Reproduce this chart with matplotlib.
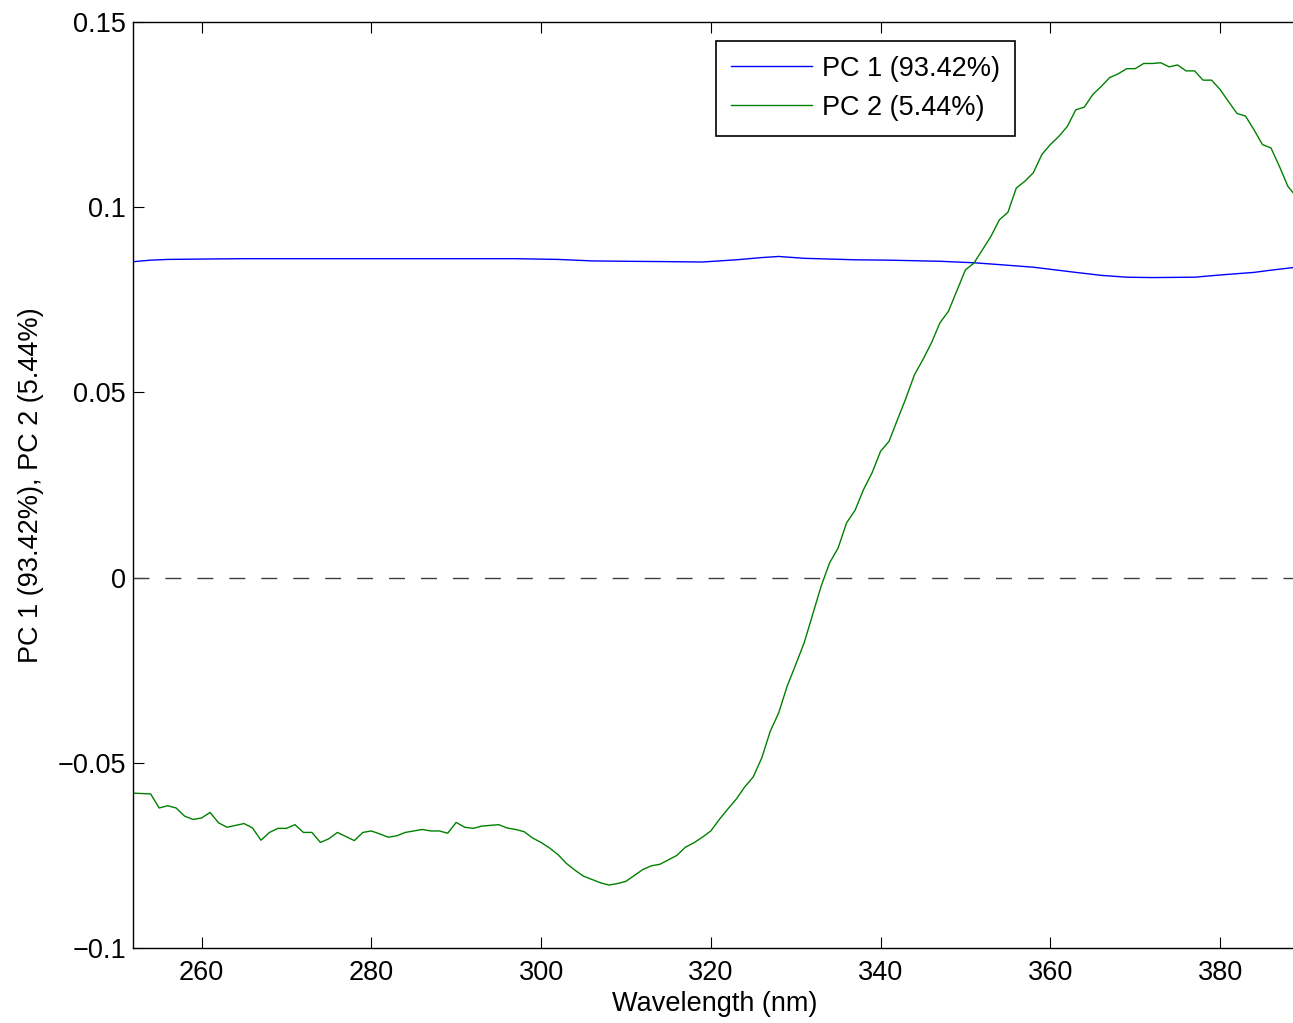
import numpy as np
import matplotlib.pyplot as plt

plt.rcParams['font.family'] = ['Liberation Sans', 'DejaVu Sans']

# PC 2 loadings, 1 nm steps
wl_pc2 = list(range(252, 390))
pc2 = [-0.0582, -0.0583, -0.0584, -0.0622, -0.0616, -0.0622, -0.0644, -0.0653, -0.0649, -0.0634,
       -0.0662, -0.0674, -0.0669, -0.0664, -0.0676, -0.0709, -0.0688, -0.0677, -0.0677, -0.0667,
       -0.0688, -0.0688, -0.0715, -0.0705, -0.0688, -0.0699, -0.0710, -0.0688, -0.0684, -0.0692,
       -0.0701, -0.0697, -0.0688, -0.0684, -0.0680, -0.0684, -0.0684, -0.0690, -0.0661, -0.0674,
       -0.0677, -0.0671, -0.0669, -0.0667, -0.0676, -0.0680, -0.0686, -0.0703, -0.0715, -0.0730,
       -0.0748, -0.0772, -0.0790, -0.0806, -0.0815, -0.0824, -0.0830, -0.0826, -0.0820, -0.0804,
       -0.0788, -0.0778, -0.0774, -0.0762, -0.0750, -0.0728, -0.0716, -0.0701, -0.0684, -0.0653,
       -0.0625, -0.0598, -0.0565, -0.0538, -0.0487, -0.0415, -0.0365, -0.0293, -0.0235, -0.0176,
       -0.0100, -0.0023, 0.0040, 0.0080, 0.0148, 0.0182, 0.0238, 0.0283, 0.0341, 0.0368,
       0.0427, 0.0485, 0.0548, 0.0589, 0.0634, 0.0688, 0.0719, 0.0775, 0.0831, 0.0849,
       0.0885, 0.0921, 0.0966, 0.0986, 0.1052, 0.1070, 0.1093, 0.1142, 0.1169, 0.1191,
       0.1218, 0.1263, 0.1270, 0.1304, 0.1326, 0.1350, 0.1360, 0.1374, 0.1374, 0.1388,
       0.1388, 0.1390, 0.1379, 0.1384, 0.1368, 0.1368, 0.1343, 0.1343, 0.1318, 0.1285,
       0.1253, 0.1246, 0.1209, 0.1169, 0.1160, 0.1110, 0.1056, 0.1028]

# PC 1 loadings
wl_pc1 = [252, 254, 256, 260, 265, 270, 280, 290, 297, 302, 306, 310, 315, 319, 323, 326, 328,
          331, 337, 341, 347, 351, 354, 358, 363, 366, 369, 372, 377, 380, 384, 386, 389]
pc1 = [0.0853, 0.0857, 0.0859, 0.0860, 0.0861, 0.0861, 0.0861, 0.0861, 0.0861, 0.0859, 0.0855,
       0.0854, 0.0853, 0.0852, 0.0858, 0.0864, 0.0867, 0.0862, 0.0858, 0.0857, 0.0854, 0.0850,
       0.0845, 0.0838, 0.0824, 0.0816, 0.0811, 0.0810, 0.0811, 0.0817, 0.0824, 0.0830, 0.0838]

labels = ['PC 1 (93.42%)', 'PC 2 (5.44%)']
yticks = [-0.1, -0.05, 0, 0.05, 0.1, 0.15]
yticklabels = ['\u22120.1', '\u22120.05', '0', '0.05', '0.1', '0.15']
xticks = [260, 280, 300, 320, 340, 360, 380]

FS = 19.5

fig = plt.figure(figsize=(12.93, 10.23), dpi=100)
ax = fig.add_axes([133/1293, 1 - 948/1023, 1 - 133/1293 + 0.002, (948 - 22)/1023])

ax.plot(wl_pc1, pc1, color='#0000ff', linewidth=1.0, label=labels[0])
ax.plot(wl_pc2, pc2, color='#008000', linewidth=1.0, label=labels[1])
ax.axhline(0, color='#404040', linestyle=(0, (11.5, 11.5)), linewidth=1.0)

ax.set_xlim(251.92, 388.9)
ax.set_ylim(-0.1, 0.15)
ax.set_xticks(xticks)
ax.set_yticks(yticks)
ax.set_yticklabels(yticklabels)
ax.tick_params(direction='in', length=8, width=0.8, labelsize=FS, top=True, right=False)
ax.tick_params(axis='x', pad=9)
ax.tick_params(axis='y', pad=5)
for s in ax.spines.values():
    s.set_linewidth(1.0)

ax.set_xlabel('Wavelength (nm)', fontsize=FS, labelpad=3)
ax.set_ylabel(labels[0] + ', ' + labels[1], fontsize=FS, labelpad=10)

leg = ax.legend(loc='upper left', bbox_to_anchor=((715 - 133)/1160, 1 - (41 - 22)/926),
                fontsize=FS, fancybox=False, framealpha=1, edgecolor='black',
                handlelength=3.0, handletextpad=0.35, borderpad=0.55, labelspacing=0.48,
                borderaxespad=0)
leg.get_frame().set_linewidth(1.2)

fig.savefig('out.png', dpi=100)
